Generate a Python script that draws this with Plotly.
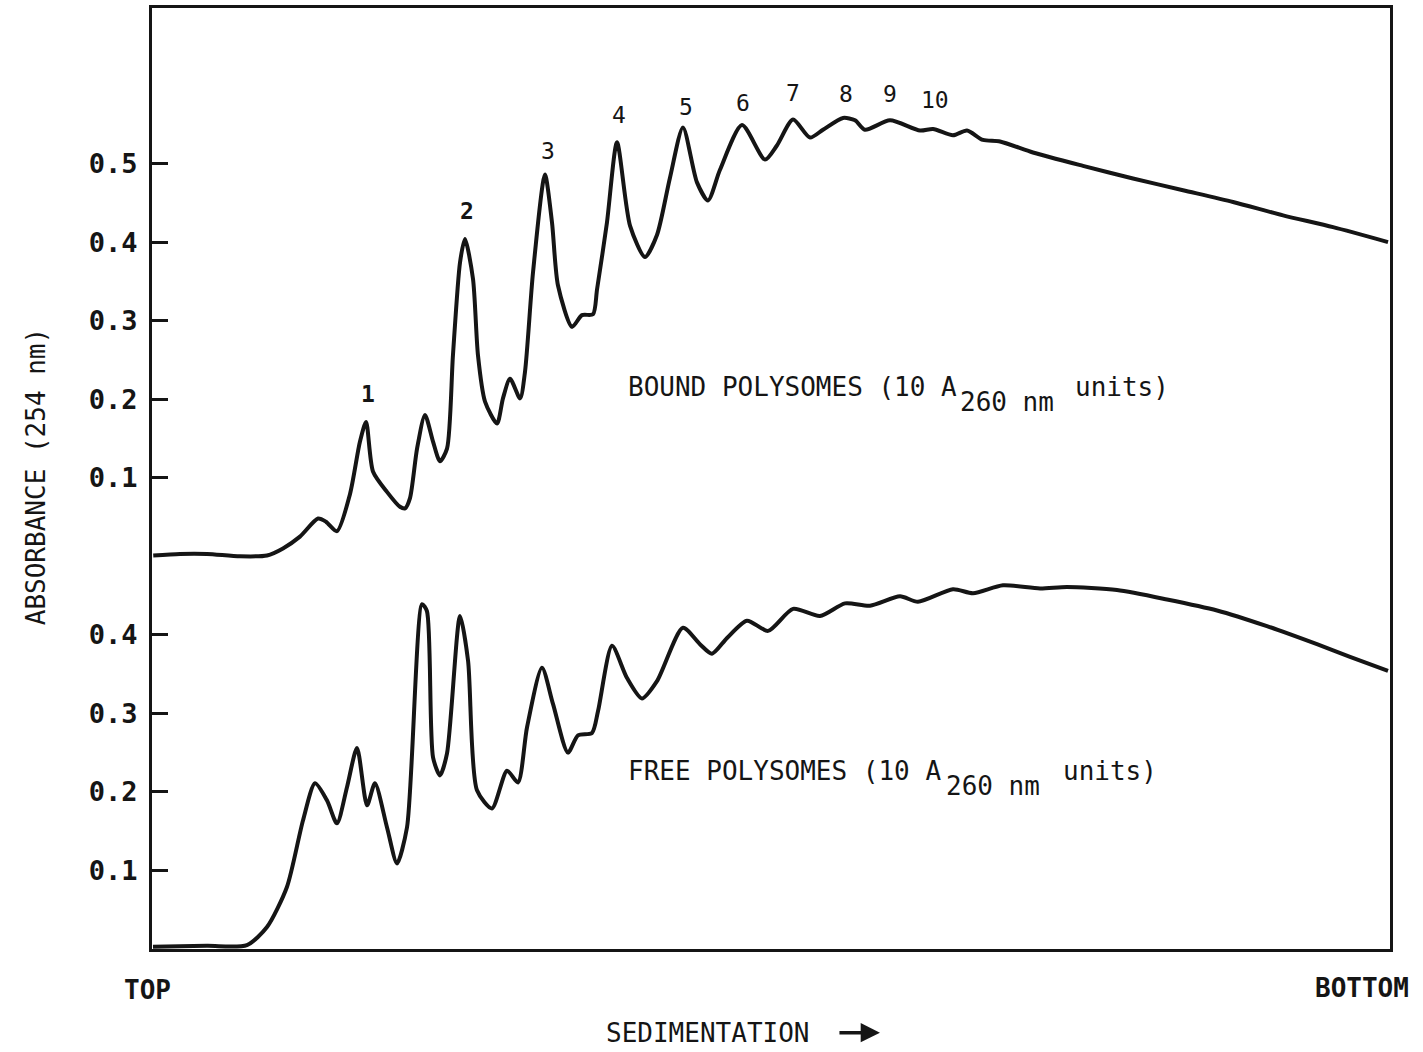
import plotly.graph_objects as go

# Position along the gradient (% of tube length, top -> bottom)
bound_x = [0.1, 2.26, 4.44, 7.11, 9.29, 10.58, 11.95, 13.41, 14.05, 14.94,
           15.99, 16.80, 17.29, 17.85, 18.98, 20.03, 20.44, 20.84, 21.41, 22.05,
           22.70, 23.26, 23.83, 24.31, 24.88, 25.28, 25.93, 26.33, 26.90, 27.87,
           28.35, 28.92, 29.73, 30.13, 30.78, 31.74, 32.31, 32.79, 33.93, 34.73,
           35.62, 35.95, 36.75, 37.56, 38.61, 39.82, 40.79, 41.84, 42.89, 44.02,
           44.91, 45.88, 47.66, 49.52, 50.48, 51.78, 53.15, 54.20, 55.82, 56.79,
           57.59, 59.61, 62.04, 63.09, 64.70, 65.83, 67.12, 68.50, 71.16, 75.20,
           79.24, 83.28, 87.32, 91.36, 95.40, 99.84]
# Absorbance at 254 nm, membrane-bound polysomes
bound_a = [0.001, 0.003, 0.003, 0.000, 0.001, 0.010, 0.025, 0.048, 0.044, 0.032,
           0.079, 0.146, 0.171, 0.108, 0.082, 0.063, 0.061, 0.074, 0.137, 0.180,
           0.146, 0.121, 0.137, 0.256, 0.374, 0.404, 0.353, 0.256, 0.197, 0.169,
           0.201, 0.226, 0.201, 0.235, 0.362, 0.486, 0.425, 0.345, 0.292, 0.307,
           0.308, 0.340, 0.425, 0.527, 0.421, 0.381, 0.409, 0.482, 0.546, 0.476,
           0.453, 0.492, 0.549, 0.505, 0.523, 0.556, 0.533, 0.543, 0.558, 0.555,
           0.543, 0.555, 0.542, 0.544, 0.536, 0.542, 0.530, 0.528, 0.514, 0.497,
           0.481, 0.466, 0.451, 0.434, 0.419, 0.400]

free_x = [0.08, 4.44, 7.67, 9.29, 10.90, 12.20, 13.17, 14.14, 14.94, 15.75,
          16.56, 17.37, 18.01, 18.98, 19.79, 20.60, 21.81, 22.21, 22.70, 23.26,
          23.83, 24.88, 25.53, 26.25, 27.46, 28.68, 29.56, 30.29, 31.50, 32.39,
          33.60, 34.41, 35.54, 36.03, 37.16, 38.37, 39.58, 40.79, 42.89, 44.26,
          45.23, 46.45, 48.06, 49.76, 51.78, 53.96, 55.98, 58.00, 60.42, 61.87,
          64.70, 66.32, 68.74, 71.73, 73.91, 77.95, 81.99, 86.03, 90.06, 94.10,
          96.77, 99.84]
# Absorbance at 254 nm, free polysomes
free_a = [0.003, 0.004, 0.005, 0.028, 0.079, 0.164, 0.211, 0.189, 0.160, 0.206,
          0.256, 0.183, 0.211, 0.155, 0.109, 0.155, 0.439, 0.430, 0.244, 0.221,
          0.249, 0.424, 0.367, 0.202, 0.179, 0.227, 0.212, 0.282, 0.358, 0.312,
          0.250, 0.272, 0.275, 0.303, 0.386, 0.345, 0.319, 0.341, 0.409, 0.388,
          0.376, 0.396, 0.418, 0.405, 0.433, 0.424, 0.440, 0.437, 0.449, 0.442,
          0.458, 0.453, 0.463, 0.459, 0.461, 0.457, 0.445, 0.431, 0.411, 0.388,
          0.372, 0.354]

# Ribosome-number labels over the bound profile
peak_labels = ["1", "2", "3", "4", "5", "6", "7", "8", "9", "10"]
peak_label_x = [17.45, 25.44, 31.99, 37.72, 43.13, 47.74, 51.78, 56.06, 59.61, 63.25]
peak_label_a = [0.206, 0.440, 0.516, 0.562, 0.572, 0.577, 0.590, 0.588, 0.588, 0.581]

# y ticks: lower scale for free, upper (offset) scale for bound
free_ticks = [0.1, 0.2, 0.3, 0.4]
bound_ticks = [0.1, 0.2, 0.3, 0.4, 0.5]

BOUND_OFFSET = 0.5
INK = "#151515"
MONO = "DejaVu Sans Mono"

fig = go.Figure()
fig.add_trace(go.Scatter(
    x=bound_x, y=[a + BOUND_OFFSET for a in bound_a], mode="lines",
    line=dict(color=INK, width=4, shape="spline", smoothing=0.7),
    name="Bound polysomes", showlegend=False, hoverinfo="skip"))
fig.add_trace(go.Scatter(
    x=free_x, y=free_a, mode="lines",
    line=dict(color=INK, width=4, shape="spline", smoothing=0.7),
    name="Free polysomes", showlegend=False, hoverinfo="skip"))

tickvals = free_ticks + [t + BOUND_OFFSET for t in bound_ticks]
ticktext = [f"{t:.1f}" for t in free_ticks] + [f"{t:.1f}" for t in bound_ticks]

annotations = []
for i, (lab, lx, la) in enumerate(zip(peak_labels, peak_label_x, peak_label_a)):
    annotations.append(dict(
        x=lx, y=la + BOUND_OFFSET, xref="x", yref="y", text=lab, showarrow=False,
        font=dict(family=MONO, size=23, color=INK, weight="bold" if i < 2 else "normal"),
        xanchor="center", yanchor="middle"))


def profile_label(head, x_head, x_sub, x_tail, y_text, y_sub):
    """Trace label written as head text, a large dropped subscript, then 'units)'."""
    base = dict(xref="x", yref="y", showarrow=False, xanchor="left", yanchor="middle")
    return [
        dict(base, x=x_head, y=y_text, text=head,
             font=dict(family=MONO, size=26, color=INK)),
        dict(base, x=x_sub, y=y_sub, text="260 nm",
             font=dict(family=MONO, size=26, color=INK)),
        dict(base, x=x_tail, y=y_text, text="units)",
             font=dict(family=MONO, size=26, color=INK)),
    ]


annotations += profile_label("BOUND POLYSOMES (10 A", 38.3, 65.1, 74.4,
                             0.216 + BOUND_OFFSET, 0.197 + BOUND_OFFSET)
annotations += profile_label("FREE POLYSOMES (10 A", 38.3, 64.0, 73.4,
                             0.227, 0.208)

annotations += [
    dict(x=-0.094, y=0.502, xref="paper", yref="paper", showarrow=False,
         text="ABSORBANCE (254 nm)", textangle=-90,
         font=dict(family=MONO, size=26, color=INK), xanchor="center", yanchor="middle"),
    dict(x=-0.004, y=-0.044, xref="paper", yref="paper", showarrow=False,
         text="TOP", font=dict(family=MONO, size=26, color=INK, weight="bold"),
         xanchor="center", yanchor="middle"),
    dict(x=0.977, y=-0.041, xref="paper", yref="paper", showarrow=False,
         text="BOTTOM", font=dict(family=MONO, size=26, color=INK, weight="bold"),
         xanchor="center", yanchor="middle"),
    dict(x=0.449, y=-0.089, xref="paper", yref="paper", showarrow=False,
         text="SEDIMENTATION", font=dict(family=MONO, size=26, color=INK),
         xanchor="center", yanchor="middle"),
    # direction arrow after the axis caption
    dict(x=0.588, y=-0.089, xref="paper", yref="paper", text="",
         showarrow=True, ax=-42, ay=0, arrowhead=2, arrowsize=1.1,
         arrowwidth=3.5, arrowcolor=INK),
]

fig.update_layout(
    width=1423, height=1052,
    margin=dict(l=152, r=33, t=5, b=103),
    paper_bgcolor="white", plot_bgcolor="white",
    annotations=annotations,
    xaxis=dict(range=[0, 100], showgrid=False, zeroline=False,
               showticklabels=False, ticks="",
               showline=True, mirror=True, linewidth=3, linecolor=INK),
    yaxis=dict(range=[0, 1.198], showgrid=False, zeroline=False,
               showline=True, mirror=True, linewidth=3, linecolor=INK,
               tickmode="array", tickvals=tickvals, ticktext=ticktext,
               ticks="inside", ticklen=16, tickwidth=3, tickcolor=INK,
               ticklabelstandoff=6,
               tickfont=dict(family=MONO, size=27, color=INK, weight="bold")),
)

fig.write_html("out.html")
